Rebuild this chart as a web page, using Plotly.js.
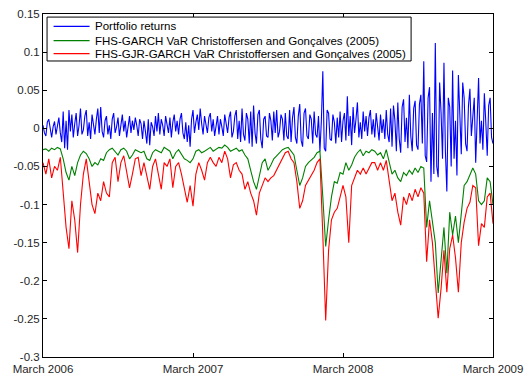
<!DOCTYPE html>
<html>
<head>
<meta charset="utf-8">
<script src="https://cdn.plot.ly/plotly-3.0.1.min.js"></script>
<style>html,body{margin:0;padding:0;background:#fff;}#chart{width:528px;height:376px;}</style>
</head>
<body>
<div id="chart"></div>
<script>
// Portfolio returns, read twice a week, March 2006 .. March 2009 (x in weeks 0..156)
const portfolioReturns = [
 0.004,-0.006,-0.010,0.008,0.012,-0.004,-0.012,0.002,0.009,-0.008,0.003,0.014,-0.006,-0.018,0.022,-0.026,0.010,-0.028,0.024,-0.004,
 0.018,-0.012,0.006,0.020,-0.010,0.004,0.026,-0.008,-0.002,0.016,0.024,-0.010,0.008,-0.014,0.018,0.004,-0.008,0.012,0.026,-0.006,
 0.028,-0.004,-0.012,0.010,0.016,-0.008,0.004,-0.014,0.012,0.020,-0.006,0.002,0.014,-0.010,0.008,0.018,-0.004,0.010,-0.012,0.006,
 0.016,-0.006,0.010,-0.002,0.014,0.004,-0.010,0.012,0.006,-0.014,0.010,-0.004,-0.020,0.012,-0.022,0.008,0.002,-0.010,0.016,-0.004,
 0.020,-0.008,0.012,0.004,-0.010,0.016,0.006,-0.006,0.014,-0.012,0.008,0.018,-0.004,0.010,-0.008,0.012,0.020,-0.006,-0.014,0.008,
 -0.018,0.004,-0.024,0.012,0.024,-0.006,0.008,0.018,-0.002,0.026,0.006,-0.008,0.016,0.002,-0.006,0.014,0.020,-0.004,0.012,-0.010,
 0.006,0.016,-0.008,0.012,0.002,-0.010,0.018,0.008,-0.006,0.014,0.022,-0.012,-0.004,0.016,0.024,-0.014,0.010,-0.018,0.026,-0.008,
 -0.016,0.020,0.012,-0.020,0.022,-0.024,0.030,-0.006,-0.020,0.018,0.024,-0.014,-0.026,0.012,0.016,-0.010,-0.012,0.020,0.010,-0.016,
 0.022,-0.006,0.024,-0.012,-0.004,0.018,0.012,-0.016,0.020,-0.010,-0.014,0.024,-0.018,0.014,0.028,-0.012,-0.020,0.016,0.032,-0.016,
 -0.024,0.020,0.026,-0.010,-0.014,0.018,0.012,-0.020,0.022,-0.008,-0.012,0.016,-0.030,0.010,0.075,-0.026,-0.030,0.024,0.020,-0.014,
 -0.016,0.018,0.008,-0.020,0.014,-0.012,0.022,-0.018,0.010,0.020,-0.016,0.042,-0.010,0.016,-0.022,0.028,-0.006,0.012,0.034,-0.012,
 0.008,-0.014,0.022,-0.004,0.016,-0.010,0.014,0.024,-0.008,0.012,-0.012,0.020,0.004,-0.016,0.018,-0.006,0.012,-0.014,0.024,-0.008,
 -0.018,0.026,-0.024,0.030,0.010,-0.030,0.034,-0.014,-0.032,0.028,0.038,-0.018,0.014,-0.026,0.044,-0.010,-0.030,0.026,0.036,-0.022,
 -0.028,0.032,0.044,-0.020,0.088,-0.036,-0.044,0.040,0.054,-0.070,0.020,-0.060,0.112,-0.050,-0.064,0.060,0.020,-0.040,0.086,-0.030,
 -0.083,0.040,0.028,-0.050,0.076,-0.040,0.010,-0.062,0.070,0.010,-0.034,0.060,0.040,-0.020,-0.030,0.030,0.052,-0.010,0.020,0.040,
 -0.045,0.014,0.066,-0.020,0.010,-0.028,0.046,0.008,-0.036,0.030,0.040,-0.012,-0.020
];
// VaR series, read once a week (x in weeks 0..156)
const varGarch = [
 -0.028,-0.027,-0.030,-0.026,-0.028,-0.025,-0.027,-0.040,-0.058,-0.068,-0.050,-0.062,-0.045,-0.035,-0.030,-0.033,-0.040,-0.050,-0.045,-0.048,
 -0.040,-0.042,-0.032,-0.028,-0.026,-0.030,-0.035,-0.028,-0.026,-0.030,-0.040,-0.035,-0.028,-0.030,-0.032,-0.030,-0.040,-0.042,-0.032,-0.028,
 -0.030,-0.032,-0.025,-0.028,-0.030,-0.040,-0.032,-0.028,-0.035,-0.040,-0.042,-0.045,-0.040,-0.030,-0.028,-0.032,-0.030,-0.028,-0.025,
 -0.030,-0.028,-0.025,-0.026,-0.022,-0.025,-0.030,-0.028,-0.026,-0.030,-0.028,-0.035,-0.040,-0.055,-0.070,-0.080,-0.060,-0.045,-0.040,
 -0.055,-0.048,-0.040,-0.036,-0.032,-0.028,-0.026,-0.025,-0.030,-0.035,-0.055,-0.075,-0.065,-0.050,-0.045,-0.042,-0.038,-0.032,-0.030,-0.090,
 -0.155,-0.120,-0.090,-0.070,-0.072,-0.058,-0.060,-0.045,-0.055,-0.048,-0.038,-0.032,-0.028,-0.036,-0.030,-0.032,-0.028,-0.030,-0.035,
 -0.032,-0.040,-0.028,-0.045,-0.060,-0.055,-0.065,-0.070,-0.058,-0.062,-0.055,-0.060,-0.052,-0.058,-0.050,-0.052,-0.130,-0.095,-0.120,
 -0.150,-0.216,-0.175,-0.130,-0.190,-0.110,-0.140,-0.115,-0.150,-0.110,-0.075,-0.070,-0.060,-0.052,-0.060,-0.095,-0.100,-0.095,-0.065,-0.070,-0.100
];
const varGjrGarch = [
 -0.045,-0.060,-0.040,-0.065,-0.050,-0.055,-0.038,-0.080,-0.130,-0.158,-0.095,-0.120,-0.163,-0.100,-0.060,-0.040,-0.070,-0.100,-0.112,-0.085,
 -0.095,-0.070,-0.085,-0.090,-0.045,-0.038,-0.070,-0.045,-0.036,-0.055,-0.078,-0.060,-0.040,-0.038,-0.062,-0.045,-0.062,-0.080,-0.050,-0.040,
 -0.060,-0.080,-0.045,-0.050,-0.040,-0.078,-0.050,-0.045,-0.060,-0.080,-0.097,-0.075,-0.102,-0.060,-0.045,-0.055,-0.068,-0.045,-0.038,
 -0.045,-0.050,-0.038,-0.045,-0.030,-0.040,-0.065,-0.048,-0.045,-0.055,-0.060,-0.080,-0.070,-0.085,-0.095,-0.114,-0.085,-0.075,-0.065,
 -0.070,-0.065,-0.062,-0.055,-0.048,-0.040,-0.032,-0.030,-0.040,-0.045,-0.070,-0.105,-0.095,-0.075,-0.068,-0.060,-0.055,-0.045,-0.040,-0.140,
 -0.252,-0.160,-0.120,-0.110,-0.105,-0.090,-0.075,-0.090,-0.150,-0.075,-0.065,-0.055,-0.060,-0.052,-0.060,-0.052,-0.045,-0.045,-0.055,
 -0.045,-0.055,-0.042,-0.070,-0.095,-0.085,-0.110,-0.127,-0.090,-0.100,-0.085,-0.095,-0.080,-0.090,-0.078,-0.085,-0.175,-0.120,-0.150,
 -0.200,-0.249,-0.210,-0.160,-0.215,-0.158,-0.140,-0.170,-0.215,-0.150,-0.123,-0.105,-0.097,-0.075,-0.078,-0.154,-0.125,-0.130,-0.090,-0.085,-0.125
];
const seriesNames = [
 'Portfolio returns',
 'FHS-GARCH VaR Christoffersen and Gonçalves (2005)',
 'FHS-GJR-GARCH VaR Christoffersen and Gonçalves (2005)'
];
const xTickWeeks = [0, 52, 104, 156];
const xTickLabels = ['March 2006', 'March 2007', 'March 2008', 'March 2009'];
const yTickValues = [0.15, 0.1, 0.05, 0, -0.05, -0.1, -0.15, -0.2, -0.25, -0.3];
const yTickLabels = ['0.15', '0.1', '0.05', '0', '-0.05', '-0.1', '-0.15', '-0.2', '-0.25', '-0.3'];

const returnWeeks = portfolioReturns.map((_, i) => i / 2);
const varWeeks = varGarch.map((_, i) => i);
const colors = ['#0000ff', '#008000', '#ff0000'];
const xs = [returnWeeks, varWeeks, varWeeks];
const allSeries = [portfolioReturns, varGarch, varGjrGarch];

const traces = allSeries.map((ys, k) => ({
  x: xs[k], y: ys, type: 'scatter', mode: 'lines', name: seriesNames[k],
  line: {color: colors[k], width: 1.1}
}));

const font = 'Liberation Sans, Arial, sans-serif';
const axisCommon = {
  showline: true, linecolor: '#000', linewidth: 1, mirror: 'ticks',
  ticks: 'inside', ticklen: 4, tickcolor: '#000', showgrid: false, zeroline: false,
  tickfont: {family: font, size: 11.5, color: '#262626'}
};

// Legend box drawn in paper coordinates (MATLAB-style compact legend)
const legX0 = 0.009, legX1 = 0.818, legTop = 0.991, legBottom = 0.863;
const rowY = [0.964, 0.9225, 0.8845];
const shapes = [{type: 'rect', xref: 'paper', yref: 'paper', x0: legX0, x1: legX1, y0: legBottom, y1: legTop,
  line: {color: '#000', width: 1}, fillcolor: '#fff', layer: 'above'}];
const annotations = [];
seriesNames.forEach((nm, k) => {
  shapes.push({type: 'line', xref: 'paper', yref: 'paper', x0: 0.0235, x1: 0.1035, y0: rowY[k], y1: rowY[k],
    line: {color: colors[k], width: 1.1}, layer: 'above'});
  annotations.push({xref: 'paper', yref: 'paper', x: 0.111, y: rowY[k], xanchor: 'left', yanchor: 'middle',
    text: nm, showarrow: false, font: {family: font, size: 11.5, color: '#000'}});
});

const layout = {
  width: 528, height: 376,
  margin: {l: 43, r: 35, t: 14, b: 19},
  paper_bgcolor: '#fff', plot_bgcolor: '#fff',
  showlegend: false,
  shapes: shapes, annotations: annotations,
  xaxis: Object.assign({}, axisCommon, {
    range: [0, 156], tickmode: 'array', tickvals: xTickWeeks, ticktext: xTickLabels, ticklabelstandoff: 1
  }),
  yaxis: Object.assign({}, axisCommon, {
    range: [-0.3, 0.15], tickmode: 'array', tickvals: yTickValues, ticktext: yTickLabels
  })
};

Plotly.newPlot('chart', traces, layout, {staticPlot: true, displayModeBar: false});
</script>
</body>
</html>
